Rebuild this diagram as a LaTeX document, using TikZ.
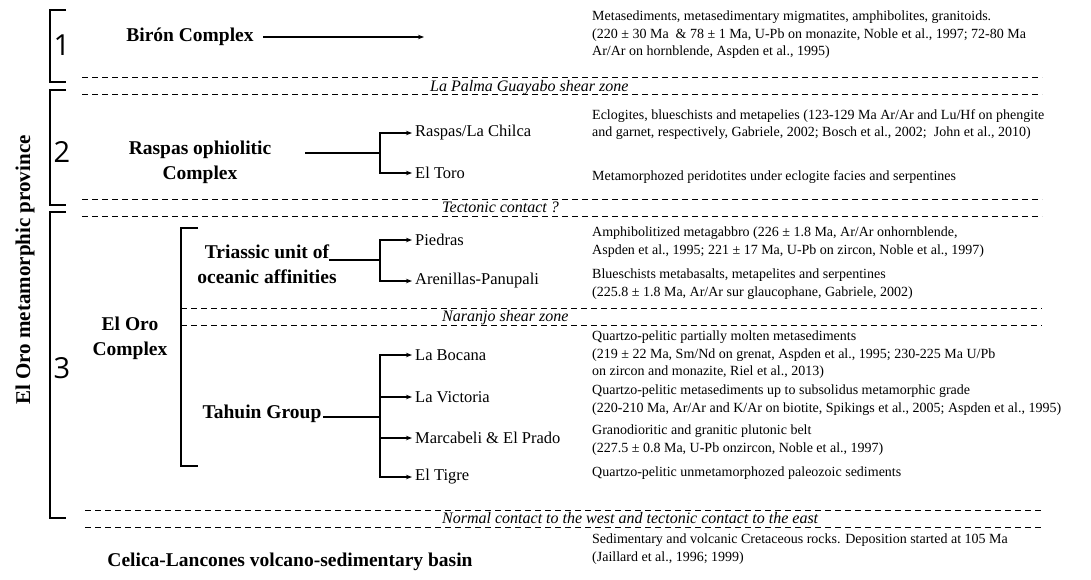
\documentclass[tikz,border=0pt]{standalone}
\usepackage{fontspec}
\setmainfont{Liberation Serif}
\newfontfamily\numfont{Open Sans}
\usetikzlibrary{arrows.meta}

\tikzset{
    title/.style={font=\fontsize{19.5}{25}\selectfont\bfseries, align=center},
    leaf/.style={font=\fontsize{16.5}{19}\selectfont, anchor=west, inner sep=3pt},
    desc/.style={font=\fontsize{14}{17.5}\selectfont, anchor=west, align=left, inner sep=0pt},
    contact/.style={font=\fontsize{16}{18}\selectfont\itshape, anchor=base west, inner sep=0pt},
    dashline/.style={dash pattern=on 6pt off 4pt, line width=0.9pt},
    bracket/.style={line width=1.4pt},
    branch/.style={line width=1.2pt},
    tip/.style={-{Stealth[length=6pt,width=4.5pt]}},
    num/.style={font=\numfont\fontsize{29}{30}\selectfont},
}

\begin{document}
\begin{tikzpicture}[x=1pt,y=-1pt]
    \useasboundingbox (0,0) rectangle (1091,579);

    % province title and numbered brackets
    \node[rotate=90, font=\fontsize{21}{24}\selectfont\bfseries] (province) at (25,270) {El Oro metamorphic province};
    \draw[bracket] (66,10) -- (50,10) -- (50,82) -- (66,82);
    \draw[bracket] (66,90) -- (50,90) -- (50,205) -- (66,205);
    \draw[bracket] (66,212) -- (50,212) -- (50,518) -- (66,518);
    \node[num] (one) at (62,45) {1};
    \node[num] (two) at (62,152) {2};
    \node[num] (three) at (62,368) {3};

    % contacts
    \foreach\y in {77,94,199,216}{
        \draw[dashline] (82,\y) -- (1042,\y);
    }
    \foreach\y in {308,325}{
        \draw[dashline] (181,\y) -- (1042,\y);
    }
    \foreach\y in {510,527}{
        \draw[dashline] (85,\y) -- (1042,\y);
    }
    \node[contact] (palma) at (430,91) {La Palma Guayabo shear zone};
    \node[contact] (tectonic) at (442,212) {Tectonic contact ?};
    \node[contact] (naranjo) at (442,321) {Naranjo shear zone};
    \node[contact] (normal) at (442,523) {Normal contact to the west and tectonic contact to the east};

    % 1
    \node[title] (biron) at (190,37) {Birón Complex};
    \coordinate (bironend) at (424,37);
    \draw[branch,tip] ([xshift=6pt]biron.east) -- (bironend);
    \node[desc] (dbiron) at (592,35) {Metasediments, metasedimentary migmatites, amphibolites, granitoids.\\(220 ± 30 Ma \ \& 78 ± 1 Ma, U-Pb on monazite, Noble et al., 1997; 72-80 Ma\\Ar/Ar on hornblende, Aspden et al., 1995)};

    % 2
    \node[title] (raspas) at (200,162) {Raspas ophiolitic\\Complex};
    \coordinate (rstart) at (305,153);
    \coordinate (rsplit) at (380,153);
    \node[leaf] (chilca) at (412,133) {Raspas/La Chilca};
    \node[leaf] (toro) at (412,173) {El Toro};
    \draw[branch] (rstart) -- (rsplit);
    \draw[branch,tip] (rsplit) |- (chilca.west);
    \draw[branch,tip] (rsplit) |- (toro.west);
    \node[desc] (dchilca) at (592,124.5) {Eclogites, blueschists and metapelies (123-129 Ma Ar/Ar and Lu/Hf on phengite\\and garnet, respectively, Gabriele, 2002; Bosch et al., 2002; \ John et al., 2010)};
    \node[desc] (dtoro) at (592,177) {Metamorphozed peridotites under eclogite facies and serpentines};

    % 3
    \node[title] (eloro) at (130,338) {El Oro\\Complex};
    \draw[bracket] (198,228) -- (181,228) -- (181,466) -- (198,466);

    \node[title] (triassic) at (267,264) {Triassic unit of\\oceanic affinities};
    \coordinate (tstart) at (329,260);
    \coordinate (tsplit) at (380,260);
    \node[leaf] (piedras) at (412,240) {Piedras};
    \node[leaf] (arenillas) at (412,281) {Arenillas-Panupali};
    \draw[branch] (tstart) -- (tsplit);
    \draw[branch,tip] (tsplit) |- (piedras.west);
    \draw[branch,tip] (tsplit) |- (arenillas.west);
    \node[desc] (dpiedras) at (592,242) {Amphibolitized metagabbro (226 ± 1.8 Ma, Ar/Ar onhornblende,\\Aspden et al., 1995; 221 ± 17 Ma, U-Pb on zircon, Noble et al., 1997)};
    \node[desc] (darenillas) at (592,284) {Blueschists metabasalts, metapelites and serpentines\\(225.8 ± 1.8 Ma, Ar/Ar sur glaucophane, Gabriele, 2002)};

    \node[title] (tahuin) at (262,414) {Tahuin Group};
    \coordinate (gstart) at (323,417);
    \coordinate (gsplit) at (380,417);
    \node[leaf] (bocana) at (412,355) {La Bocana};
    \node[leaf] (victoria) at (412,397) {La Victoria};
    \node[leaf] (marcabeli) at (412,438) {Marcabeli \& El Prado};
    \node[leaf] (tigre) at (412,477) {El Tigre};
    \draw[branch] (gstart) -- (gsplit);
    \foreach\n in {bocana,victoria,marcabeli,tigre}{
        \draw[branch,tip] (gsplit) |- (\n.west);
    }
    \node[desc] (dbocana) at (592,355) {Quartzo-pelitic partially molten metasediments\\(219 ± 22 Ma, Sm/Nd on grenat, Aspden et al., 1995; 230-225 Ma U/Pb\\on zircon and monazite, Riel et al., 2013)};
    \node[desc] (dvictoria) at (592,400) {Quartzo-pelitic metasediments up to subsolidus metamorphic grade\\(220-210 Ma, Ar/Ar and K/Ar on biotite, Spikings et al., 2005; Aspden et al., 1995)};
    \node[desc] (dmarcabeli) at (592,440) {Granodioritic and granitic plutonic belt\\(227.5 ± 0.8 Ma, U-Pb onzircon, Noble et al., 1997)};
    \node[desc] (dtigre) at (592,473) {Quartzo-pelitic unmetamorphozed paleozoic sediments};

    % basin
    \node[title] (celica) at (290,562) {Celica-Lancones volcano-sedimentary basin};
    \node[desc] (dcelica) at (592,549) {Sedimentary and volcanic Cretaceous rocks. Deposition started at 105 Ma\\(Jaillard et al., 1996; 1999)};
\end{tikzpicture}
\end{document}
